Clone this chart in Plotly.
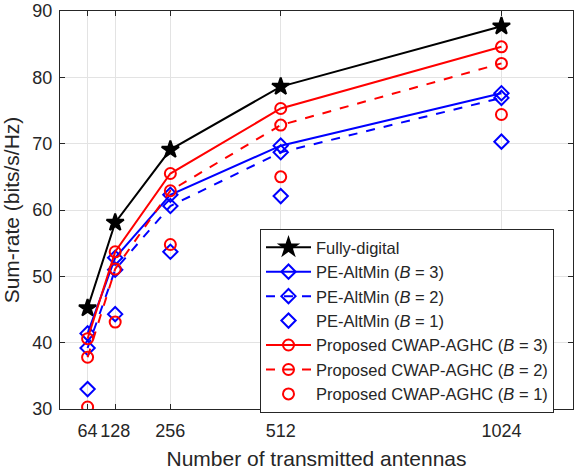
import plotly.graph_objects as go

antennas = [64, 128, 256, 512, 1024]
fully_digital = [45.2, 58.1, 69.1, 78.6, 87.7]
pe_b3 = [41.4, 52.8, 62.3, 69.7, 77.6]
pe_b2 = [39.2, 51.0, 60.6, 68.7, 76.9]
pe_b1 = [33.0, 44.3, 53.7, 62.1, 70.3]
cw_b3 = [40.6, 53.7, 65.5, 75.3, 84.6]
cw_b2 = [37.8, 51.1, 62.9, 72.8, 82.1]
cw_b1 = [30.3, 43.1, 54.8, 65.0, 74.4]

x_ticks = [64, 128, 256, 512, 1024]
y_ticks = [30, 40, 50, 60, 70, 80, 90]

fig = go.Figure()

def add(y, name, color, symbol, dash, mode, size):
    fig.add_trace(go.Scatter(
        x=antennas, y=y, name=name, mode=mode,
        line=dict(color=color, width=2, dash=dash),
        marker=dict(symbol=symbol, size=size, color=color,
                    line=dict(color=color, width=2)),
    ))

add(fully_digital, "Fully-digital", "black", "star", "solid", "lines+markers", 13)
add(pe_b3, "PE-AltMin (<i>B</i> = 3)", "#0000ff", "diamond-open", "solid", "lines+markers", 11)
add(pe_b2, "PE-AltMin (<i>B</i> = 2)", "#0000ff", "diamond-open", "dash", "lines+markers", 11)
add(pe_b1, "PE-AltMin (<i>B</i> = 1)", "#0000ff", "diamond-open", "solid", "markers", 11)
add(cw_b3, "Proposed CWAP-AGHC (<i>B</i> = 3)", "#ff0000", "circle-open", "solid", "lines+markers", 11)
add(cw_b2, "Proposed CWAP-AGHC (<i>B</i> = 2)", "#ff0000", "circle-open", "dash", "lines+markers", 11)
add(cw_b1, "Proposed CWAP-AGHC (<i>B</i> = 1)", "#ff0000", "circle-open", "solid", "markers", 11)

axis_common = dict(
    showline=True, linecolor="#262626", linewidth=1, mirror="ticks",
    ticks="inside", ticklen=5, tickcolor="#262626",
    showgrid=True, gridcolor="#e3e3e3", gridwidth=1, zeroline=False,
    tickfont=dict(size=18, color="#262626"), automargin=False,
    ticklabeloverflow="allow",
)

fig.update_layout(
    width=574, height=472,
    margin=dict(l=60, r=1, t=11, b=63),
    paper_bgcolor="white", plot_bgcolor="white",
    font=dict(family="Liberation Sans, Arial, sans-serif", color="#262626"),
    xaxis=dict(range=[0, 1190], tickvals=x_ticks, ticktext=[str(t) for t in x_ticks],
               ticklabelstandoff=5,
               title=dict(text="Number of transmitted antennas", font=dict(size=21), standoff=11),
               **axis_common),
    yaxis=dict(range=[30, 90], tickvals=y_ticks, ticklabelstandoff=3,
               title=dict(text="Sum-rate (bits/s/Hz)", font=dict(size=21), standoff=8),
               **axis_common),
    legend=dict(x=(260 - 60) / 513, y=(409 - 229) / 398, xanchor="left", yanchor="top",
                bgcolor="white", bordercolor="#262626", borderwidth=1,
                font=dict(size=16.5, color="#262626"), itemwidth=45,
                tracegroupgap=0),
    showlegend=True,
)

fig.write_html(
    "out.html",
    config={"displayModeBar": False},
    post_script="document.body.style.margin='0';document.body.style.overflow='hidden';",
)
